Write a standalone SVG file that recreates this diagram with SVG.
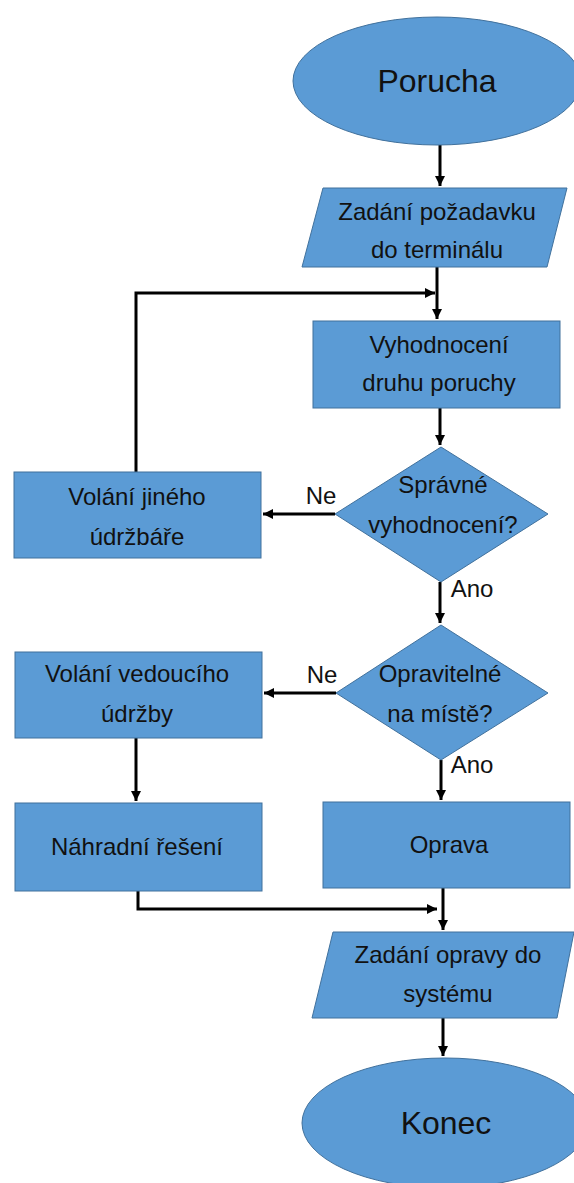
<svg xmlns="http://www.w3.org/2000/svg" width="574" height="1183" viewBox="0 0 574 1183">
<style>
.s{fill:#5B9BD5;stroke:#41719C;stroke-width:1}
.t{font-family:"Liberation Sans",Arial,sans-serif;font-size:24px;fill:#111;text-anchor:middle}
.big{font-size:32px}
.c{fill:none;stroke:#000;stroke-width:3}
</style>
<defs>
<marker id="ah" markerUnits="userSpaceOnUse" markerWidth="12" markerHeight="12" refX="10" refY="5" orient="auto">
<path d="M0,0 L10,5 L0,10 Z" fill="#000"/>
</marker>
</defs>
<rect width="574" height="1183" fill="#fff"/>
<g id="connectors">
<path class="c" d="M440,145 V186" marker-end="url(#ah)"/>
<path class="c" d="M437,267 V319" marker-end="url(#ah)"/>
<path class="c" d="M136,472 V293 H435" marker-end="url(#ah)"/>
<path class="c" d="M440,408 V445" marker-end="url(#ah)"/>
<path class="c" d="M335,514 H263" marker-end="url(#ah)"/>
<path class="c" d="M440,582 V623" marker-end="url(#ah)"/>
<path class="c" d="M336,693 H264" marker-end="url(#ah)"/>
<path class="c" d="M136,738 V801" marker-end="url(#ah)"/>
<path class="c" d="M441,760 V800" marker-end="url(#ah)"/>
<path class="c" d="M138,891 V909 H437" marker-end="url(#ah)"/>
<path class="c" d="M443,888 V930" marker-end="url(#ah)"/>
<path class="c" d="M443,1018 V1056" marker-end="url(#ah)"/>
</g>
<g id="porucha">
<ellipse class="s" cx="437" cy="81" rx="144" ry="64"/>
<text class="t big" x="437" y="92">Porucha</text>
</g>
<g id="zadani-pozadavku">
<polygon class="s" points="323,188 567,188 547,267 302,267"/>
<text class="t" x="437" y="220">Zadání požadavku</text>
<text class="t" x="437" y="258">do terminálu</text>
</g>
<g id="vyhodnoceni">
<rect class="s" x="313" y="321" width="247" height="87"/>
<text class="t" x="439" y="353">Vyhodnocení</text>
<text class="t" x="439" y="391">druhu poruchy</text>
</g>
<g id="spravne">
<polygon class="s" points="441,447 548,514 441,582 335,514"/>
<text class="t" x="443" y="493">Správné</text>
<text class="t" x="443" y="533">vyhodnocení?</text>
</g>
<g id="volani-jineho">
<rect class="s" x="14" y="472" width="247" height="86"/>
<text class="t" x="137" y="505">Volání jiného</text>
<text class="t" x="137" y="545">údržbáře</text>
</g>
<g id="opravitelne">
<polygon class="s" points="441,625 548,693 441,760 336,693"/>
<text class="t" x="440" y="682">Opravitelné</text>
<text class="t" x="440" y="722">na místě?</text>
</g>
<g id="volani-vedouciho">
<rect class="s" x="15" y="652" width="247" height="86"/>
<text class="t" x="137" y="682">Volání vedoucího</text>
<text class="t" x="137" y="722">údržby</text>
</g>
<g id="nahradni">
<rect class="s" x="15" y="803" width="247" height="88"/>
<text class="t" x="137" y="855">Náhradní řešení</text>
</g>
<g id="oprava">
<rect class="s" x="323" y="802" width="247" height="86"/>
<text class="t" x="449" y="853">Oprava</text>
</g>
<g id="zadani-opravy">
<polygon class="s" points="333,932 574,932 557,1018 312,1018"/>
<text class="t" x="448" y="963">Zadání opravy do</text>
<text class="t" x="448" y="1002">systému</text>
</g>
<g id="konec">
<ellipse class="s" cx="445" cy="1123" rx="143" ry="65"/>
<text class="t big" x="446" y="1134">Konec</text>
</g>
<g id="labels">
<text class="t" x="321" y="504">Ne</text>
<text class="t" x="472" y="597">Ano</text>
<text class="t" x="322" y="683">Ne</text>
<text class="t" x="472" y="773">Ano</text>
</g>
</svg>
